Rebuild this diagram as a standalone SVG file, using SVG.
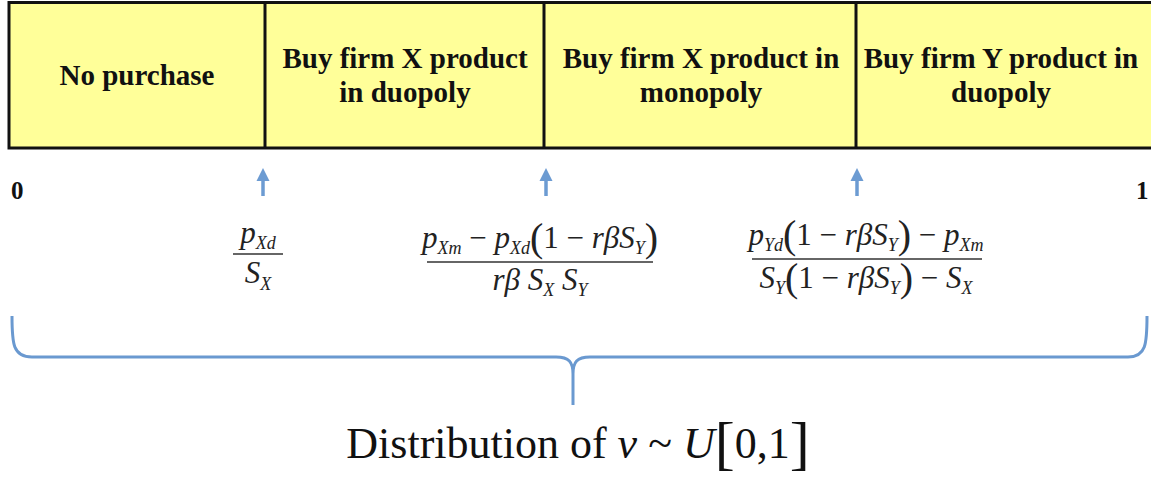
<svg xmlns="http://www.w3.org/2000/svg" width="1151" height="479" viewBox="0 0 1151 479">
<style>
.box{fill:#FFFF99;stroke:#111;stroke-width:3}
.div{stroke:#111;stroke-width:3}
.lbl{font-family:'Liberation Serif','Times New Roman','DejaVu Serif',serif;font-weight:700;font-size:29px;text-anchor:middle;fill:#111}
.end{font-family:'Liberation Serif','Times New Roman','DejaVu Serif',serif;font-weight:700;font-size:25px;fill:#111}
.m{font-family:'Liberation Serif','Times New Roman','DejaVu Serif',serif;font-style:italic;font-size:31px;text-anchor:middle;fill:#222}
.sub{font-size:18px}
.up{font-style:normal}
.par{font-style:normal;font-size:40px}
.bar{stroke:#333;stroke-width:1.5}
.arr{stroke:#6C9BD2;stroke-width:3.5}
.arrh{fill:#6C9BD2}
.brace{fill:none;stroke:#6A99D0;stroke-width:3;stroke-linejoin:round}
.dist{font-family:'Liberation Serif','Times New Roman','DejaVu Serif',serif;font-size:44px;fill:#111}
</style>
<g id="band">
<rect class="box" x="9" y="2.5" width="1160" height="145.5"/>
</g>
<g id="node-no-purchase">
<text class="lbl" x="137" y="85">No purchase</text>
</g>
<g id="node-x-duopoly">
<line class="div" x1="265" y1="2.5" x2="265" y2="148"/>
<text class="lbl" x="405" y="68">Buy firm X product</text>
<text class="lbl" x="405" y="102">in duopoly</text>
</g>
<g id="node-x-monopoly">
<line class="div" x1="544" y1="2.5" x2="544" y2="148"/>
<text class="lbl" x="701" y="68">Buy firm X product in</text>
<text class="lbl" x="701" y="102">monopoly</text>
</g>
<g id="node-y-duopoly">
<line class="div" x1="856" y1="2.5" x2="856" y2="148"/>
<text class="lbl" x="1001" y="68">Buy firm Y product in</text>
<text class="lbl" x="1001" y="102">duopoly</text>
</g>
<g id="axis-ends">
<text class="end" x="11" y="199">0</text>
<text class="end" x="1136" y="199">1</text>
</g>
<g id="connectors">
<line class="arr" x1="263" y1="196" x2="263" y2="178"/>
<polygon class="arrh" points="263,168 256.5,181 269.5,181"/>
<line class="arr" x1="546" y1="196" x2="546" y2="178"/>
<polygon class="arrh" points="546,168 539.5,181 552.5,181"/>
<line class="arr" x1="857" y1="196" x2="857" y2="178"/>
<polygon class="arrh" points="857,168 850.5,181 863.5,181"/>
<path class="brace" d="M12,316 C12,344 13,357 32,357 L556,357 C569,357 573,362 573,374 L573,405 M573,374 C573,362 577,357 590,357 L1128,357 C1146,357 1147,344 1147,316"/>
</g>
<g id="formula-1">
<text class="m" x="258" y="243">p<tspan class="sub" dy="6">Xd</tspan></text>
<line class="bar" x1="233" y1="254" x2="283" y2="254"/>
<text class="m" x="258" y="283">S<tspan class="sub" dy="7">X</tspan></text>
</g>
<g id="formula-2">
<text class="m" x="540" y="248">p<tspan class="sub" dy="6">Xm</tspan><tspan class="up" dy="-6"> − </tspan>p<tspan class="sub" dy="6">Xd</tspan><tspan class="par" dy="-3">(</tspan><tspan class="up" dy="-3">1 − </tspan>rβS<tspan class="sub" dy="6">Y</tspan><tspan class="par" dy="-3">)</tspan></text>
<line class="bar" x1="427" y1="262" x2="653" y2="262"/>
<text class="m" x="540" y="290">rβ  S<tspan class="sub" dy="6">X</tspan><tspan dy="-6">  S</tspan><tspan class="sub" dy="6">Y</tspan></text>
</g>
<g id="formula-3">
<text class="m" x="866" y="245">p<tspan class="sub" dy="6">Yd</tspan><tspan class="par" dy="-3">(</tspan><tspan class="up" dy="-3">1 − </tspan>rβS<tspan class="sub" dy="6">Y</tspan><tspan class="par" dy="-3">)</tspan><tspan class="up" dy="-3"> − </tspan>p<tspan class="sub" dy="6">Xm</tspan></text>
<line class="bar" x1="752" y1="259" x2="982" y2="259"/>
<text class="m" x="866" y="288">S<tspan class="sub" dy="6">Y</tspan><tspan class="par" dy="-3">(</tspan><tspan class="up" dy="-3">1 − </tspan>rβS<tspan class="sub" dy="6">Y</tspan><tspan class="par" dy="-3">)</tspan><tspan class="up" dy="-3"> − </tspan>S<tspan class="sub" dy="6">X</tspan></text>
</g>
<g id="caption">
<text class="dist" x="578" y="458" text-anchor="middle">Distribution of <tspan font-style="italic">v</tspan> ~ <tspan font-style="italic">U</tspan><tspan font-size="60" dy="5">[</tspan><tspan dy="-5">0,1</tspan><tspan font-size="60" dy="5">]</tspan></text>
</g>
</svg>
